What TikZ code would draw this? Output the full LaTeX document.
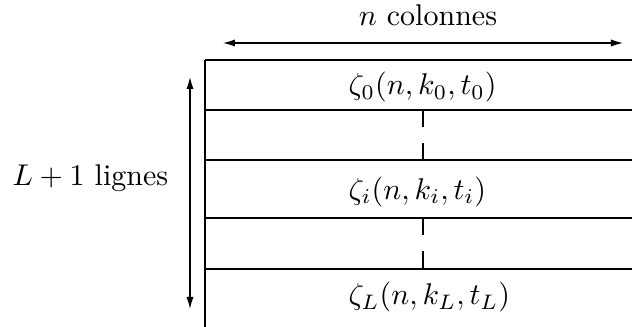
\documentclass[tikz,border=0pt]{standalone}
\usetikzlibrary{arrows.meta}
\begin{document}
\begin{tikzpicture}[x=0.33333pt,y=-0.33333pt,
  rowline/.style={draw=black,line width=0.4pt},
  dimarrow/.style={{Latex[length=4pt,width=2.4pt]}-{Latex[length=4pt,width=2.4pt]},line width=0.4pt},
  sep/.style={draw,line width=0.4pt,dash pattern=on 5.55pt off 5.55pt},
  lbl/.style={inner sep=0pt,anchor=base west}]
\useasboundingbox (0,0) rectangle (632,327);
% dimension arrows
\coordinate (hl) at (223,43);
\coordinate (hr) at (623,43);
\draw[dimarrow] (hl) -- (hr);
\node[inner sep=0pt,anchor=base] (ncol) at (428,26) {$n$ colonnes};
\coordinate (vt) at (190,77);
\coordinate (vb) at (190,309);
\draw[dimarrow] (vt) -- (vb);
\node[lbl] (lig) at (12,186) {$L+1$ lignes};
% table frame
\coordinate (lt) at (205,60);
\coordinate (lb) at (205,327);
\draw[rowline] (lt) -- (lb);
\foreach \y/\n in {60/a,110/b,160/c,218/d,269/e}{
  \coordinate (l\n) at (205,\y);
  \coordinate (r\n) at (632,\y);
  \draw[rowline] (l\n) -- (r\n);
}
% dashed separators
\coordinate (d1t) at (423,110);
\coordinate (d1b) at (423,160);
\coordinate (d2t) at (423,218);
\coordinate (d2b) at (423,269);
\draw[sep] (d1t) -- (d1b);
\draw[sep] (d2t) -- (d2b);
% row labels
\node[lbl] (z0) at (348,95) {$\zeta_0(n,k_0,t_0)$};
\node[lbl] (zi) at (348,199.5) {$\zeta_i(n,k_i,t_i)$};
\node[lbl] (zL) at (348,305) {$\zeta_L(n,k_L,t_L)$};
\end{tikzpicture}
\end{document}
